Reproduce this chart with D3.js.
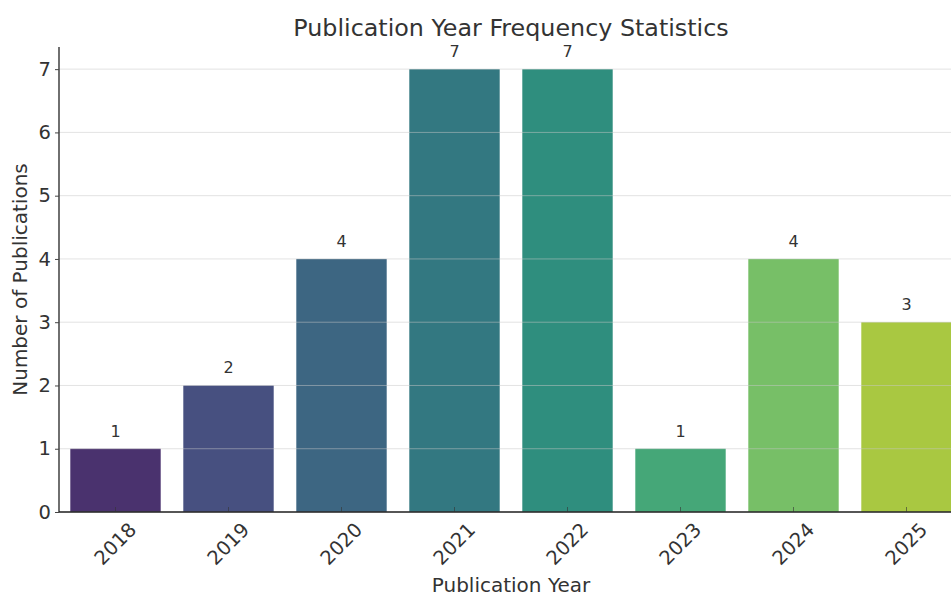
<!DOCTYPE html>
<html>
<head>
<meta charset="utf-8">
<script src="https://cdn.jsdelivr.net/npm/d3@7"></script>
<style>
  html, body { margin: 0; padding: 0; background: #fff; }
  svg { display: block; font-family: "DejaVu Sans", sans-serif; }
</style>
</head>
<body>
<svg id="chart" width="951" height="596"></svg>
<script>
// Publications per year
const years = ["2018", "2019", "2020", "2021", "2022", "2023", "2024", "2025"];
const counts = [1, 2, 4, 7, 7, 1, 4, 3];
const yTicks = [0, 1, 2, 3, 4, 5, 6, 7];

const titleText = "Publication Year Frequency Statistics";
const xLabelText = "Publication Year";
const yLabelText = "Number of Publications";

const W = 951, H = 596;
const plot = { left: 59, right: 963, top: 47, bottom: 512 };
const textColor = "#333";

const svg = d3.select("#chart");

const x = d3.scaleBand()
  .domain(years)
  .range([plot.left, plot.right])
  .paddingInner(0.2)
  .paddingOuter(0.1);

const yMax = d3.max(counts) * 1.05;
const y = d3.scaleLinear().domain([0, yMax]).range([plot.bottom, plot.top]);

// viridis palette sampled evenly, desaturated like a default bar plot
const color = d3.scaleOrdinal()
  .domain(years)
  .range(years.map((_, i) => {
    const c = d3.hsl(d3.interpolateViridis((i + 1) / (years.length + 1)));
    c.s *= 0.75;
    return c.formatHex();
  }));

// bars
svg.append("g")
  .selectAll("rect")
  .data(years)
  .join("rect")
  .attr("x", d => x(d))
  .attr("width", x.bandwidth())
  .attr("y", (d, i) => y(counts[i]))
  .attr("height", (d, i) => y(0) - y(counts[i]))
  .attr("fill", d => color(d));

// horizontal grid lines
svg.append("g")
  .selectAll("line")
  .data(yTicks)
  .join("line")
  .attr("x1", plot.left)
  .attr("x2", W)
  .attr("y1", d => y(d))
  .attr("y2", d => y(d))
  .attr("stroke", "#c8c8c8")
  .attr("stroke-opacity", 0.5)
  .attr("stroke-width", 1);

// value labels
svg.append("g")
  .selectAll("text")
  .data(years)
  .join("text")
  .attr("x", d => x(d) + x.bandwidth() / 2)
  .attr("y", (d, i) => y(counts[i]) - 12)
  .attr("text-anchor", "middle")
  .attr("font-size", 16)
  .attr("fill", textColor)
  .text((d, i) => counts[i]);

// y axis
const yAxis = svg.append("g")
  .attr("transform", `translate(${plot.left},0)`)
  .call(d3.axisLeft(y).tickValues(yTicks).tickFormat(d3.format("d")).tickSize(4).tickPadding(4));
yAxis.select(".domain").attr("d", `M0,${plot.top}V${plot.bottom}`).attr("stroke", "#222").attr("stroke-width", 1.3);
yAxis.selectAll(".tick line").attr("stroke", "#444");
yAxis.selectAll(".tick text").attr("font-size", 19.5).attr("fill", textColor).attr("font-family", "DejaVu Sans");

// x axis
const xAxis = svg.append("g")
  .attr("transform", `translate(0,${plot.bottom})`)
  .call(d3.axisBottom(x).tickSize(-5).tickPadding(0));
xAxis.select(".domain").attr("d", `M${plot.left},0H${plot.right}`).attr("stroke", "#222").attr("stroke-width", 1.3);
xAxis.selectAll(".tick line").attr("stroke", "#333").attr("stroke-opacity", 0.6);
xAxis.selectAll(".tick text")
  .attr("font-size", 19.5)
  .attr("fill", textColor)
  .attr("font-family", "DejaVu Sans")
  .attr("y", 0)
  .attr("dy", null)
  .attr("text-anchor", "middle")
  .attr("dominant-baseline", "central")
  .attr("transform", "translate(0,32) rotate(-45)");

// title and axis labels
svg.append("text")
  .attr("x", (plot.left + plot.right) / 2)
  .attr("y", 36)
  .attr("text-anchor", "middle")
  .attr("font-size", 23.8)
  .attr("fill", textColor)
  .text(titleText);

svg.append("text")
  .attr("x", (plot.left + plot.right) / 2)
  .attr("y", 592)
  .attr("text-anchor", "middle")
  .attr("font-size", 20)
  .attr("fill", textColor)
  .text(xLabelText);

svg.append("text")
  .attr("transform", `translate(27,${(plot.top + plot.bottom) / 2}) rotate(-90)`)
  .attr("text-anchor", "middle")
  .attr("font-size", 20)
  .attr("fill", textColor)
  .text(yLabelText);
</script>
</body>
</html>
